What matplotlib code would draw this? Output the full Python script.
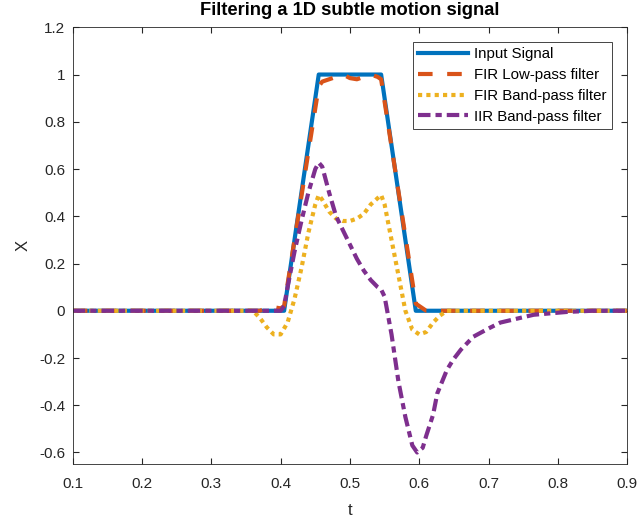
from matplotlib import pyplot as plt
import numpy as np

plt.rcParams['font.family'] = ['Liberation Sans', 'DejaVu Sans']
plt.rcParams['figure.dpi'] = 100

# input pulse
t_in = [0.1, 0.405, 0.455, 0.545, 0.595, 0.9]
x_in = [0, 0, 1, 1, 0, 0]

# FIR low-pass
t_lp = [0.1, 0.37, 0.38, 0.39, 0.40, 0.405, 0.455, 0.46, 0.47, 0.48, 0.49, 0.50,
        0.51, 0.52, 0.53, 0.54, 0.545, 0.595, 0.60, 0.61, 0.9]
x_lp = [0, 0, 0.01, 0.015, 0.01, 0.02, 0.95, 0.97, 0.98, 0.99, 1.0, 0.985,
        0.98, 0.99, 1.0, 0.99, 0.98, 0.03, 0.02, 0, 0]

# FIR band-pass
t_bp = [0.1, 0.36, 0.37, 0.38, 0.39, 0.40, 0.41, 0.42, 0.43, 0.44, 0.45, 0.455,
        0.46, 0.47, 0.48, 0.49, 0.50, 0.51, 0.52, 0.53, 0.545, 0.55, 0.56, 0.57,
        0.58, 0.59, 0.60, 0.61, 0.62, 0.63, 0.64, 0.9]
x_bp = [0, 0, -0.03, -0.07, -0.1, -0.1, -0.05, 0.05, 0.18, 0.33, 0.45, 0.49,
        0.47, 0.42, 0.39, 0.38, 0.38, 0.39, 0.41, 0.45, 0.49, 0.45, 0.3, 0.15,
        0.0, -0.08, -0.1, -0.09, -0.05, -0.02, 0, 0]

# IIR band-pass
t_iir = [0.1, 0.40, 0.405, 0.41, 0.42, 0.43, 0.44, 0.45, 0.455, 0.46, 0.47, 0.48,
         0.49, 0.50, 0.51, 0.52, 0.53, 0.54, 0.545, 0.55, 0.56, 0.57, 0.58, 0.59,
         0.597, 0.605, 0.61, 0.62, 0.626, 0.64, 0.649, 0.66, 0.678, 0.70, 0.717,
         0.765, 0.813, 0.85, 0.9]
x_iir = [0, 0, 0.02, 0.1, 0.25, 0.38, 0.5, 0.6, 0.627, 0.61, 0.5, 0.4,
         0.34, 0.28, 0.22, 0.17, 0.13, 0.1, 0.09, 0.06, -0.1, -0.3, -0.45, -0.57,
         -0.6, -0.58, -0.53, -0.44, -0.35, -0.25, -0.207, -0.165, -0.11, -0.075, -0.05,
         -0.017, -0.005, 0, 0]

fig = plt.figure(figsize=(6.38, 5.19))
ax = fig.add_axes([0.114, 0.1054, 0.869, 0.8420])

ax.plot(t_in, x_in, color='#0072BD', lw=3, label='Input Signal')
ax.plot(t_lp, x_lp, color='#D95319', lw=3, dashes=(3.5, 3.5), label='FIR Low-pass filter')
ax.plot(t_bp, x_bp, color='#EDB120', lw=3, dashes=(1, 1), label='FIR Band-pass filter')
ax.plot(t_iir, x_iir, color='#7E2F8E', lw=3, dashes=(3, 1.2, 1.5, 1.2), label='IIR Band-pass filter')

ax.set_xlim(0.1, 0.9)
ax.set_ylim(-0.65, 1.2)
ax.set_xticks(np.arange(0.1, 0.91, 0.1))
ax.set_yticks(np.arange(-0.6, 1.21, 0.2))
ax.set_xticklabels(['0.1', '0.2', '0.3', '0.4', '0.5', '0.6', '0.7', '0.8', '0.9'])
ax.set_yticklabels(['-0.6', '-0.4', '-0.2', '0', '0.2', '0.4', '0.6', '0.8', '1', '1.2'])
ax.tick_params(direction='in', top=True, right=True, labelsize=11, colors='#262626', length=4)
ax.tick_params(axis='x', pad=9)
ax.tick_params(axis='y', pad=5.5)
for s in ax.spines.values():
    s.set_color('#262626')
    s.set_linewidth(0.6)

ax.set_xlabel('t', fontsize=12, color='#262626', labelpad=9)
ax.set_ylabel('X', fontsize=12, color='#262626', labelpad=6)
ax.set_title('Filtering a 1D subtle motion signal', fontsize=13.2, fontweight='bold', pad=8.5)

leg = ax.legend(loc='upper right', bbox_to_anchor=(0.972, 0.966), borderaxespad=0,
                fontsize=10.8, handlelength=3.3, labelspacing=0.45, handletextpad=0.4,
                borderpad=0.35, fancybox=False, edgecolor='#262626', framealpha=1)
leg.get_frame().set_linewidth(0.6)

fig.savefig('out.png')
